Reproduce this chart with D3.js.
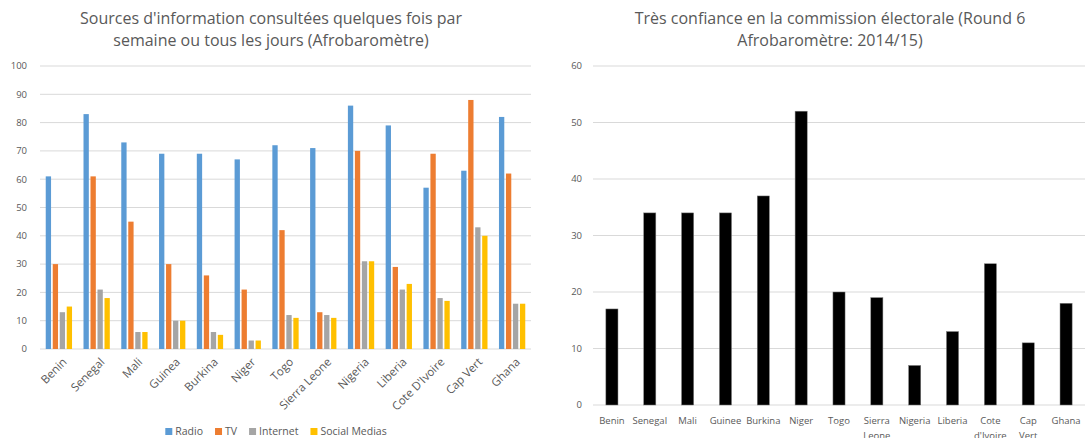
<!DOCTYPE html>
<html>
<head>
<meta charset="utf-8">
<script src="https://cdn.jsdelivr.net/npm/d3@7"></script>
<style>
  body { margin: 0; background: #fff; }
  svg text { font-family: "Open Sans", Lato, sans-serif; fill: #595959; }
</style>
</head>
<body>
<div id="graphic"></div>
<script>
// left chart data
var countries = ["Benin","Senegal","Mali","Guinea","Burkina","Niger","Togo","Sierra Leone","Nigeria","Liberia","Cote D'Ivoire","Cap Vert","Ghana"];
var seriesNames = ["Radio","TV","Internet","Social Medias"];
var radio   = [61,83,73,69,69,67,72,71,86,79,57,63,82];
var tv      = [30,61,45,30,26,21,42,13,70,29,69,88,62];
var internet= [13,21,6,10,6,3,12,12,31,21,18,43,16];
var social  = [15,18,6,10,5,3,11,11,31,23,17,40,16];
var leftTicks = [0,10,20,30,40,50,60,70,80,90,100];

// right chart data
var countries2 = ["Benin","Senegal","Mali","Guinee","Burkina","Niger","Togo","Sierra Leone","Nigeria","Liberia","Cote d'Ivoire","Cap Vert","Ghana"];
var confiance = [17,34,34,34,37,52,20,19,7,13,25,11,18];
var rightTicks = [0,10,20,30,40,50,60];

var seriesColors = ["#5B9BD5","#ED7D31","#A5A5A5","#FFC000"];
var allSeries = [radio, tv, internet, social];

var width = 1089, height = 438;

var svg = d3.select("#graphic").append("svg")
	.attr("width", width)
	.attr("height", height);

// ---------- left chart ----------
var L = {left: 40, right: 531, top: 66, bottom: 349};

var x0 = d3.scaleBand().domain(countries).range([L.left, L.right]);
var x1 = d3.scaleBand().domain(seriesNames).range([0, x0.bandwidth()])
	.paddingInner(0.24).paddingOuter(0.82);
var yL = d3.scaleLinear().domain([0,100]).range([L.bottom, L.top]);

var left = svg.append("g");

left.append("g").selectAll("line")
	.data(leftTicks)
	.enter().append("line")
	.attr("x1", L.left).attr("x2", L.right)
	.attr("y1", function(d) { return yL(d); })
	.attr("y2", function(d) { return yL(d); })
	.attr("stroke", "#D9D9D9")
	.attr("stroke-width", 1);

left.append("g").selectAll("text")
	.data(leftTicks)
	.enter().append("text")
	.attr("x", 27)
	.attr("y", function(d) { return yL(d); })
	.attr("dy", "0.35em")
	.attr("text-anchor", "end")
	.style("font-size", "9.5px")
	.text(function(d) { return d; });

var groups = left.append("g").selectAll("g")
	.data(countries)
	.enter().append("g")
	.attr("transform", function(d) { return "translate(" + x0(d) + ",0)"; });

groups.selectAll("rect")
	.data(function(d, i) {
		return seriesNames.map(function(s, j) { return {s: s, v: allSeries[j][i], c: seriesColors[j]}; });
	})
	.enter().append("rect")
	.attr("x", function(d) { return x1(d.s); })
	.attr("width", x1.bandwidth())
	.attr("y", function(d) { return yL(d.v); })
	.attr("height", function(d) { return yL(0) - yL(d.v); })
	.attr("fill", function(d) { return d.c; });

left.append("g").selectAll("text")
	.data(countries)
	.enter().append("text")
	.attr("transform", function(d) {
		return "translate(" + (x0(d) + x0.bandwidth()/2 + 3) + "," + (L.bottom + 8) + ") rotate(-45)";
	})
	.attr("text-anchor", "end")
	.attr("dy", "0.7em")
	.style("font-size", "11.5px")
	.text(function(d) { return d; });

var titleL = left.append("text")
	.attr("text-anchor", "middle")
	.style("font-size", "16px");
titleL.append("tspan").attr("x", 271).attr("y", 24).text("Sources d'information consultées quelques fois par");
titleL.append("tspan").attr("x", 271).attr("y", 46).text("semaine ou tous les jours (Afrobaromètre)");

// legend, laid out from the text widths and centred under the plot
var legend = left.append("g").attr("transform", "translate(0,431)");
var items = legend.selectAll("g")
	.data(seriesNames)
	.enter().append("g");
items.append("rect")
	.attr("y", -3)
	.attr("width", 7).attr("height", 7)
	.attr("fill", function(d, i) { return seriesColors[i]; });
items.append("text")
	.attr("x", 10).attr("y", 0)
	.attr("dy", "0.35em")
	.style("font-size", "10.5px")
	.text(function(d) { return d; });
var lx = 0, pos = [];
items.each(function(d) {
	pos.push(lx);
	lx += 10 + d3.select(this).select("text").node().getComputedTextLength() + 12;
});
var startX = 276 - (lx - 12) / 2;
items.attr("transform", function(d, i) { return "translate(" + (startX + pos[i]) + ",0)"; });

// ---------- right chart ----------
var R = {left: 593, right: 1085, top: 66, bottom: 405};

var xR = d3.scaleBand().domain(countries2).range([R.left, R.right])
	.paddingInner(0.68).paddingOuter(0.34);
var yR = d3.scaleLinear().domain([0,60]).range([R.bottom, R.top]);

var right = svg.append("g");

right.append("g").selectAll("line")
	.data(rightTicks)
	.enter().append("line")
	.attr("x1", R.left).attr("x2", R.right)
	.attr("y1", function(d) { return yR(d); })
	.attr("y2", function(d) { return yR(d); })
	.attr("stroke", "#D9D9D9")
	.attr("stroke-width", 1);

right.append("g").selectAll("text")
	.data(rightTicks)
	.enter().append("text")
	.attr("x", 582)
	.attr("y", function(d) { return yR(d); })
	.attr("dy", "0.35em")
	.attr("text-anchor", "end")
	.style("font-size", "9.5px")
	.text(function(d) { return d; });

right.append("g").selectAll("rect")
	.data(confiance)
	.enter().append("rect")
	.attr("x", function(d, i) { return xR(countries2[i]); })
	.attr("width", xR.bandwidth())
	.attr("y", function(d) { return yR(d); })
	.attr("height", function(d) { return yR(0) - yR(d); })
	.attr("fill", "#000")
	.attr("stroke", "#7f7f7f")
	.attr("stroke-width", 0.5);

var labelsR = right.append("g").selectAll("text")
	.data(countries2)
	.enter().append("text")
	.attr("text-anchor", "middle")
	.style("font-size", "9.5px");

labelsR.each(function(d) {
	var parts = d.split(" ");
	var cx = xR(d) + xR.bandwidth()/2;
	var t = d3.select(this);
	t.append("tspan").attr("x", cx).attr("y", 424).text(parts[0]);
	if (parts.length > 1) {
		t.append("tspan").attr("x", cx).attr("y", 439).text(parts.slice(1).join(" "));
	}
});

var titleR = right.append("text")
	.attr("text-anchor", "middle")
	.style("font-size", "16px");
titleR.append("tspan").attr("x", 830).attr("y", 24).text("Très confiance en la commission électorale (Round 6");
titleR.append("tspan").attr("x", 830).attr("y", 46).text("Afrobaromètre: 2014/15)");
</script>
</body>
</html>
